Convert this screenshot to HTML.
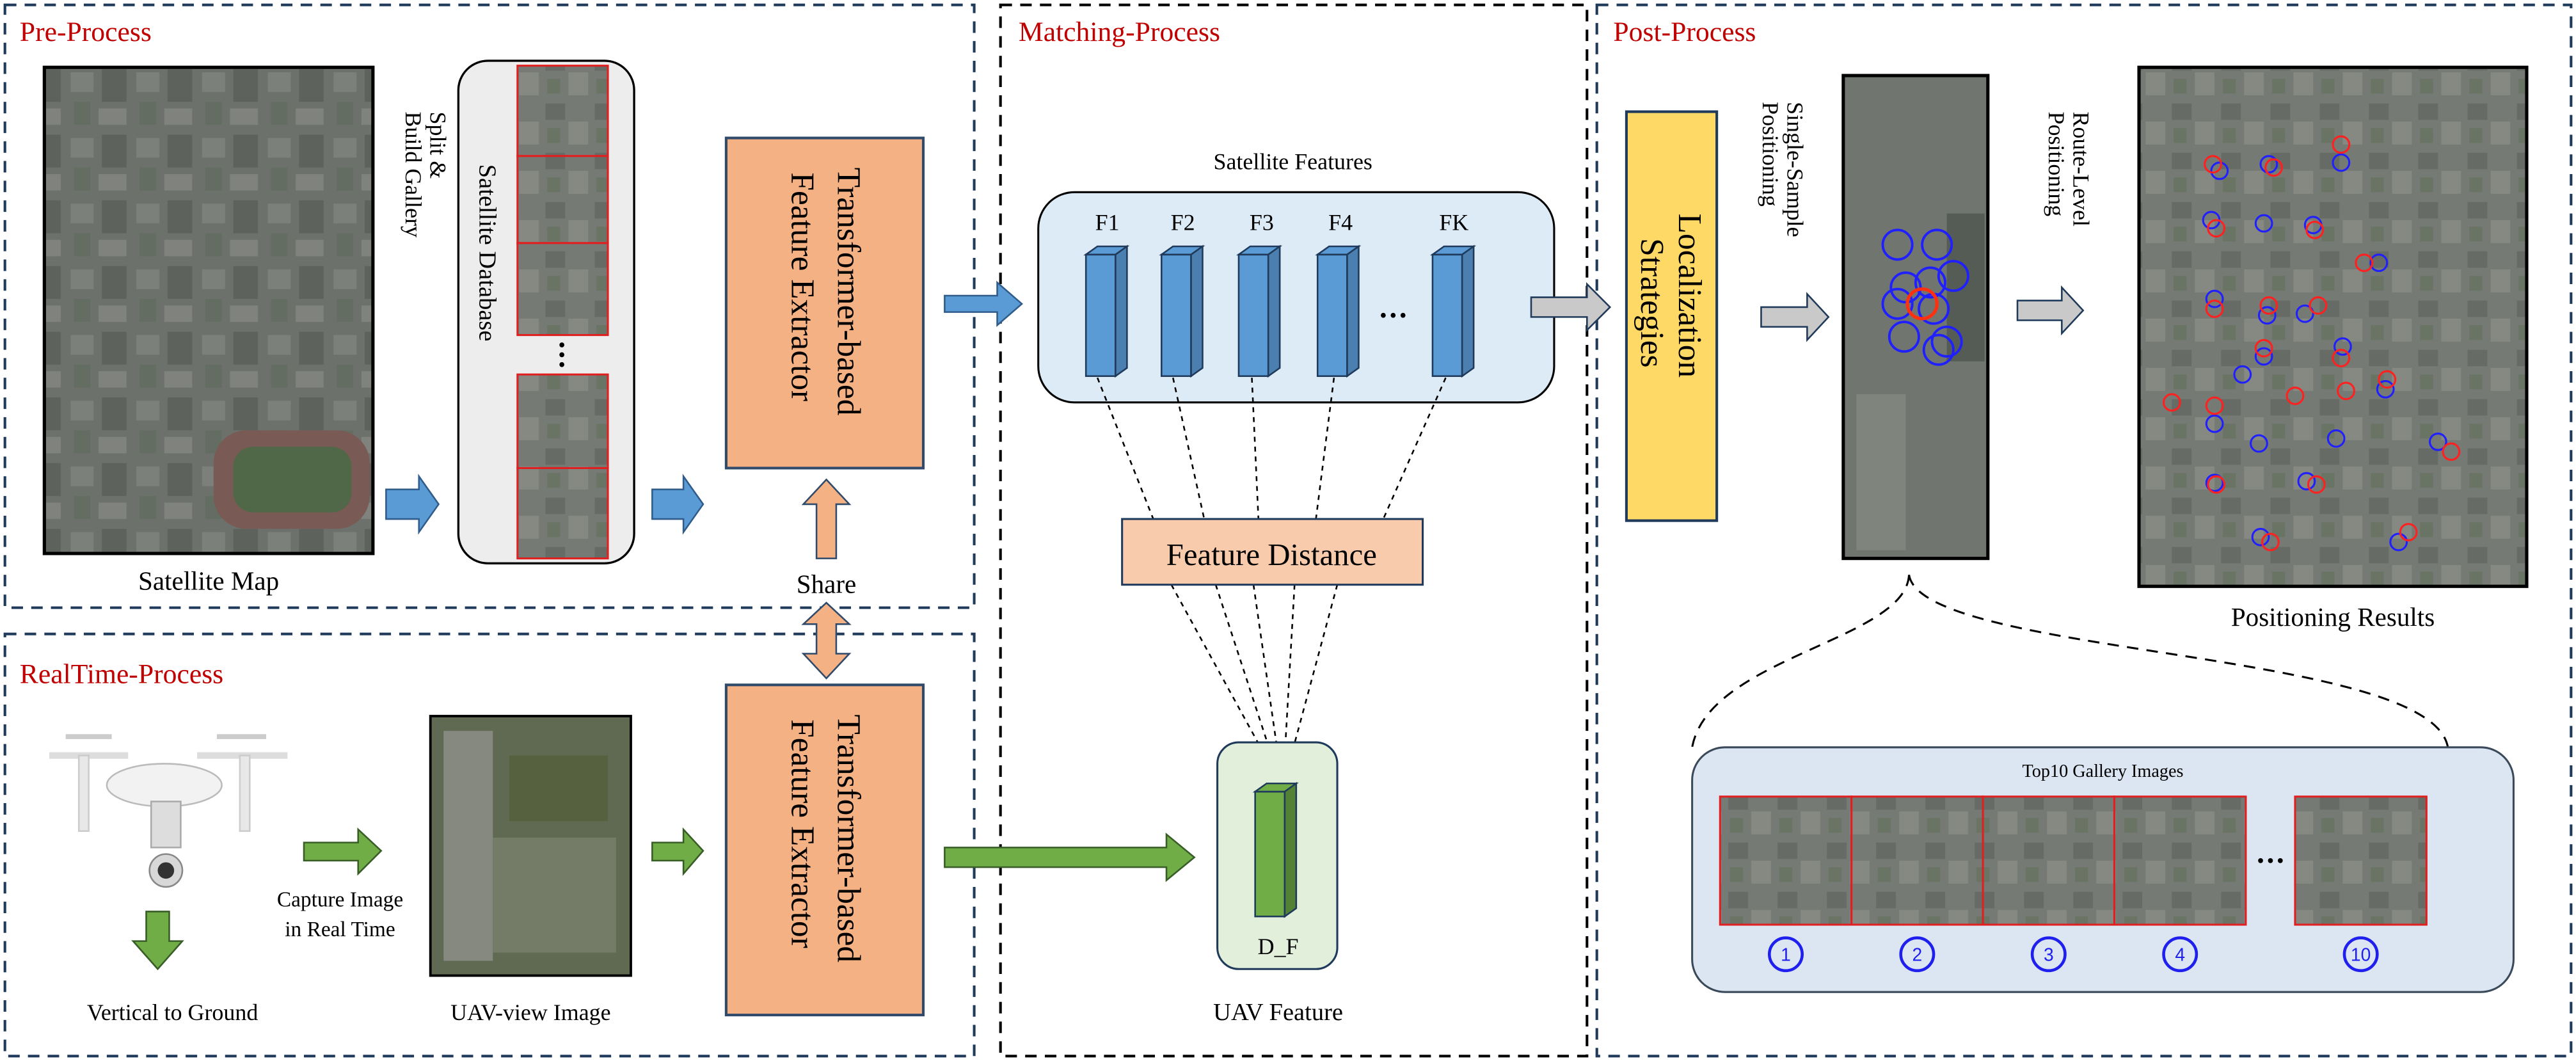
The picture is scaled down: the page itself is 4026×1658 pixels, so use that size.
<!DOCTYPE html>
<html><head><meta charset="utf-8"><style>
html,body{margin:0;padding:0;background:#fff;}
svg{display:block;}
text{font-family:"Liberation Serif",serif;fill:#000;}
.t{fill:#C00000;font-size:17px;}
</style></head><body>
<svg width="4026" height="1658" viewBox="0 0 1568 646" preserveAspectRatio="none" xmlns="http://www.w3.org/2000/svg">
<defs>
<pattern id="sat" width="40" height="40" patternUnits="userSpaceOnUse">
<rect width="40" height="40" fill="#6c716b"/>
<rect x="3" y="4" width="14" height="12" fill="#7c807a"/>
<rect x="22" y="2" width="15" height="20" fill="#5d625d"/>
<rect x="5" y="22" width="10" height="14" fill="#646d61"/>
<rect x="20" y="26" width="17" height="10" fill="#80827d"/>
</pattern>
<pattern id="sat2" width="30" height="30" patternUnits="userSpaceOnUse">
<rect width="30" height="30" fill="#767a74"/>
<rect x="2" y="3" width="12" height="10" fill="#666b65"/>
<rect x="16" y="14" width="12" height="14" fill="#868882"/>
<rect x="3" y="18" width="8" height="9" fill="#6a7464"/>
</pattern>
</defs>

<g fill="none" stroke-width="1.6" stroke-dasharray="7,5">
<rect x="3" y="3" width="590" height="367" stroke="#1F3A5A"/>
<rect x="3" y="386" width="590" height="257" stroke="#1F3A5A"/>
<rect x="609" y="3" width="357" height="640" stroke="#000"/>
<rect x="972" y="3" width="593" height="640" stroke="#1F3A5A"/>
</g>
<text class="t" x="12" y="25">Pre-Process</text>
<text class="t" x="12" y="416">RealTime-Process</text>
<text class="t" x="620" y="25">Matching-Process</text>
<text class="t" x="982" y="25">Post-Process</text>

<rect x="27" y="41" width="200" height="296" fill="url(#sat)" stroke="#000" stroke-width="2"/>
<rect x="130" y="262" width="95" height="60" rx="20" fill="#7a5a54"/>
<rect x="142" y="272" width="72" height="40" rx="12" fill="#506848"/>
<text x="127" y="359" font-size="16" text-anchor="middle">Satellite Map</text>
<text transform="translate(262,68) rotate(90)" font-size="14">Split &amp;</text>
<text transform="translate(247,68) rotate(90)" font-size="14">Build Gallery</text>
<path d="M235,298 H255 V290 L267,307 L255,324 V316 H235 Z" fill="#5B9BD5" stroke="#2F5C8A" stroke-width="1"/>

<rect x="279" y="37" width="107" height="306" rx="18" fill="#EDEDED" stroke="#000" stroke-width="1.3"/>
<text transform="translate(292,100) rotate(90)" font-size="15">Satellite Database</text>
<g stroke="#E02020" stroke-width="1.2">
<rect x="315" y="40" width="55" height="55" fill="url(#sat2)"/>
<rect x="315" y="95" width="55" height="53" fill="url(#sat2)"/>
<rect x="315" y="148" width="55" height="56" fill="url(#sat2)"/>
<rect x="315" y="228" width="55" height="57" fill="url(#sat2)"/>
<rect x="315" y="285" width="55" height="55" fill="url(#sat2)"/>
</g>
<g fill="#000"><circle cx="342" cy="210" r="1.5"/><circle cx="342" cy="216" r="1.5"/><circle cx="342" cy="222" r="1.5"/></g>
<path d="M397,298 H416 V290 L428,307 L416,324 V316 H397 Z" fill="#5B9BD5" stroke="#2F5C8A" stroke-width="1"/>

<rect x="442" y="84" width="120" height="201" fill="#F4B183" stroke="#2F4A6A" stroke-width="1.6"/>
<text transform="translate(510,102) rotate(90)" font-size="20">Transformer-based</text>
<text transform="translate(482,105) rotate(90)" font-size="20">Feature Extractor</text>
<path d="M497,340 V307 H489 L503,292 L517,307 H509 V340 Z" fill="#F4B183" stroke="#2F4A6A" stroke-width="1"/>
<text x="503" y="361" font-size="16" text-anchor="middle">Share</text>
<path d="M497,398 V380 H489 L503,367 L517,380 H509 V398 H517 L503,413 L489,398 Z" fill="#F4B183" stroke="#2F4A6A" stroke-width="1"/>

<g>
<ellipse cx="100" cy="478" rx="35" ry="13" fill="#f2f2f2" stroke="#bbb"/>
<rect x="30" y="458" width="48" height="4" fill="#ddd"/>
<rect x="120" y="458" width="55" height="4" fill="#ddd"/>
<rect x="40" y="447" width="28" height="3" fill="#ccc"/>
<rect x="132" y="447" width="30" height="3" fill="#ccc"/>
<rect x="48" y="460" width="6" height="46" fill="#e8e8e8" stroke="#ccc"/>
<rect x="146" y="460" width="6" height="46" fill="#e8e8e8" stroke="#ccc"/>
<rect x="92" y="488" width="18" height="28" fill="#ddd" stroke="#aaa"/>
<circle cx="101" cy="530" r="10" fill="#d8d8d8" stroke="#888"/>
<circle cx="101" cy="530" r="5" fill="#333"/>
</g>
<path d="M89,590 V572 H81 L96,555 L111,572 H103 V590 Z" transform="rotate(180,96,572.5)" fill="#70AD47" stroke="#385D27"/>
<text x="105" y="621" font-size="14" text-anchor="middle">Vertical to Ground</text>
<path d="M185,513 H218 V505 L232,518 L218,532 V524 H185 Z" fill="#70AD47" stroke="#385D27"/>
<text x="207" y="552" font-size="13" text-anchor="middle">Capture Image</text>
<text x="207" y="570" font-size="13" text-anchor="middle">in Real Time</text>
<rect x="262" y="436" width="122" height="158" fill="#606a52" stroke="#000" stroke-width="1.5"/>
<rect x="270" y="445" width="30" height="140" fill="#858980"/>
<rect x="310" y="460" width="60" height="40" fill="#56623f"/>
<rect x="300" y="510" width="75" height="70" fill="#747b66"/>
<text x="323" y="621" font-size="14" text-anchor="middle">UAV-view Image</text>
<path d="M397,513 H416 V505 L428,518 L416,532 V524 H397 Z" fill="#70AD47" stroke="#385D27"/>
<rect x="442" y="417" width="120" height="201" fill="#F4B183" stroke="#2F4A6A" stroke-width="1.6"/>
<text transform="translate(510,435) rotate(90)" font-size="20">Transformer-based</text>
<text transform="translate(482,438) rotate(90)" font-size="20">Feature Extractor</text>

<path d="M575,516 H710 V508 L727,522 L710,536 V528 H575 Z" fill="#70AD47" stroke="#385D27"/>
<path d="M575,180 H607 V172 L622,185 L607,198 V190 H575 Z" fill="#5B9BD5" stroke="#2F5C8A"/>
<text x="787" y="103" font-size="14" text-anchor="middle">Satellite Features</text>
<rect x="632" y="117" width="314" height="128" rx="22" fill="#DDEBF7" stroke="#000" stroke-width="1.2"/>
<g font-size="14" text-anchor="middle">
<text x="674" y="140">F1</text><text x="720" y="140">F2</text><text x="768" y="140">F3</text><text x="816" y="140">F4</text><text x="885" y="140">FK</text>
</g>
<g stroke="#1F3A5A" stroke-width="1">
<g id="cube">
<rect x="661" y="155" width="18" height="74" fill="#5B9BD5"/>
<path d="M661,155 L668,150 H686 L679,155 Z" fill="#5B9BD5"/>
<path d="M679,155 L686,150 V224 L679,229 Z" fill="#4a7fb0"/>
</g>
<use href="#cube" x="46"/><use href="#cube" x="93"/><use href="#cube" x="141"/><use href="#cube" x="211"/>
</g>
<g fill="#000"><circle cx="842" cy="192" r="1.5"/><circle cx="848" cy="192" r="1.5"/><circle cx="854" cy="192" r="1.5"/></g>
<g stroke="#000" stroke-width="1" stroke-dasharray="3,3" fill="none">
<path d="M668,230 L702,316"/><path d="M714,230 L733,316"/><path d="M762,230 L766,316"/><path d="M812,230 L801,316"/><path d="M880,230 L842,316"/>
<path d="M713,356 L770,460"/><path d="M740,356 L774,460"/><path d="M763,356 L778,460"/><path d="M788,356 L782,460"/><path d="M814,356 L786,460"/>
</g>
<rect x="683" y="316" width="183" height="40" fill="#F8CBAD" stroke="#1F3A5A" stroke-width="1.2"/>
<text x="774" y="344" font-size="19" text-anchor="middle">Feature Distance</text>
<rect x="741" y="452" width="73" height="138" rx="13" fill="#E2EFDA" stroke="#1F3A5A" stroke-width="1.2"/>
<g stroke="#1F3A5A" stroke-width="1">
<rect x="764" y="482" width="18" height="76" fill="#70AD47"/>
<path d="M764,482 L771,477 H789 L782,482 Z" fill="#70AD47"/>
<path d="M782,482 L789,477 V553 L782,558 Z" fill="#548235"/>
</g>
<text x="778" y="581" font-size="14" text-anchor="middle">D_F</text>
<text x="778" y="621" font-size="15" text-anchor="middle">UAV Feature</text>

<path d="M932,181 H966 V173 L980,187 L966,201 V193 H932 Z" fill="#C9C9C9" stroke="#1F3A5A"/>
<rect x="990" y="68" width="55" height="249" fill="#FFD966" stroke="#1F3A5A" stroke-width="1.6"/>
<text transform="translate(1022,130) rotate(90)" font-size="20">Localization</text>
<text transform="translate(999,145) rotate(90)" font-size="20">Strategies</text>
<text transform="translate(1088,62) rotate(90)" font-size="14">Single-Sample</text>
<text transform="translate(1073,62) rotate(90)" font-size="14">Positioning</text>
<path d="M1072,187 H1100 V179 L1113,193 L1100,207 V199 H1072 Z" fill="#C9C9C9" stroke="#1F3A5A"/>
<rect x="1122" y="46" width="88" height="294" fill="#70766f" stroke="#000" stroke-width="2"/>
<rect x="1185" y="130" width="23" height="90" fill="#555b55"/>
<rect x="1130" y="240" width="30" height="95" fill="#7f847c"/>
<g fill="none" stroke="#2020ff" stroke-width="1.5">
<circle cx="1155" cy="149" r="9"/><circle cx="1179" cy="149" r="9"/><circle cx="1189" cy="168" r="9"/><circle cx="1175" cy="172" r="9"/><circle cx="1160" cy="175" r="9"/><circle cx="1155" cy="185" r="9"/><circle cx="1177" cy="188" r="9"/><circle cx="1159" cy="205" r="9"/><circle cx="1185" cy="208" r="9"/><circle cx="1180" cy="213" r="9"/>
</g>
<circle cx="1170" cy="185" r="9" fill="none" stroke="#ff3010" stroke-width="2"/>
<text transform="translate(1262,68) rotate(90)" font-size="14">Route-Level</text>
<text transform="translate(1247,68) rotate(90)" font-size="14">Positioning</text>
<path d="M1228,183 H1255 V175 L1268,189 L1255,203 V195 H1228 Z" fill="#C9C9C9" stroke="#1F3A5A"/>
<rect x="1302" y="41" width="236" height="316" fill="url(#sat2)" stroke="#000" stroke-width="2"/>
<g fill="none" stroke-width="1.2">
<g stroke="#2020ff"><circle cx="1351" cy="104" r="5"/><circle cx="1381" cy="100" r="5"/><circle cx="1425" cy="99" r="5"/><circle cx="1346" cy="134" r="5"/><circle cx="1378" cy="136" r="5"/><circle cx="1408" cy="137" r="5"/><circle cx="1448" cy="160" r="5"/><circle cx="1348" cy="182" r="5"/><circle cx="1380" cy="192" r="5"/><circle cx="1403" cy="191" r="5"/><circle cx="1426" cy="211" r="5"/><circle cx="1365" cy="228" r="5"/><circle cx="1378" cy="217" r="5"/><circle cx="1452" cy="237" r="5"/><circle cx="1348" cy="258" r="5"/><circle cx="1375" cy="270" r="5"/><circle cx="1422" cy="267" r="5"/><circle cx="1484" cy="269" r="5"/><circle cx="1348" cy="294" r="5"/><circle cx="1404" cy="293" r="5"/><circle cx="1376" cy="327" r="5"/><circle cx="1460" cy="330" r="5"/></g>
<g stroke="#ff2020"><circle cx="1347" cy="100" r="5"/><circle cx="1384" cy="102" r="5"/><circle cx="1425" cy="88" r="5"/><circle cx="1349" cy="139" r="5"/><circle cx="1409" cy="140" r="5"/><circle cx="1439" cy="160" r="5"/><circle cx="1348" cy="188" r="5"/><circle cx="1381" cy="186" r="5"/><circle cx="1411" cy="186" r="5"/><circle cx="1425" cy="218" r="5"/><circle cx="1378" cy="212" r="5"/><circle cx="1453" cy="231" r="5"/><circle cx="1348" cy="247" r="5"/><circle cx="1397" cy="241" r="5"/><circle cx="1428" cy="238" r="5"/><circle cx="1492" cy="275" r="5"/><circle cx="1349" cy="295" r="5"/><circle cx="1410" cy="295" r="5"/><circle cx="1382" cy="330" r="5"/><circle cx="1466" cy="324" r="5"/><circle cx="1322" cy="245" r="5"/></g>
</g>
<text x="1420" y="381" font-size="16" text-anchor="middle">Positioning Results</text>

<path d="M1162,350 C1160,390 1040,400 1030,455 M1162,350 C1170,400 1480,395 1490,455" fill="none" stroke="#000" stroke-width="1.2" stroke-dasharray="7,5"/>
<rect x="1030" y="455" width="500" height="149" rx="20" fill="#DCE6F2" stroke="#3a4a5a" stroke-width="1.2"/>
<text x="1280" y="473" font-size="11" text-anchor="middle">Top10 Gallery Images</text>
<g stroke="#E02020" stroke-width="1.2" fill="url(#sat2)">
<rect x="1047" y="485" width="80" height="78"/><rect x="1127" y="485" width="80" height="78"/><rect x="1207" y="485" width="80" height="78"/><rect x="1287" y="485" width="80" height="78"/><rect x="1397" y="485" width="80" height="78"/>
</g>
<g fill="#000"><circle cx="1376" cy="524" r="1.5"/><circle cx="1382" cy="524" r="1.5"/><circle cx="1388" cy="524" r="1.5"/></g>
<g fill="none" stroke="#2020ee" stroke-width="1.8"><circle cx="1087" cy="581" r="10"/><circle cx="1167" cy="581" r="10"/><circle cx="1247" cy="581" r="10"/><circle cx="1327" cy="581" r="10"/><circle cx="1437" cy="581" r="10"/></g>
<g font-size="11" text-anchor="middle"><text x="1087" y="585" style="fill:#2020ee;font-family:'Liberation Sans'">1</text><text x="1167" y="585" style="fill:#2020ee;font-family:'Liberation Sans'">2</text><text x="1247" y="585" style="fill:#2020ee;font-family:'Liberation Sans'">3</text><text x="1327" y="585" style="fill:#2020ee;font-family:'Liberation Sans'">4</text><text x="1437" y="585" style="fill:#2020ee;font-family:'Liberation Sans'">10</text></g>
</svg>
</body></html>
